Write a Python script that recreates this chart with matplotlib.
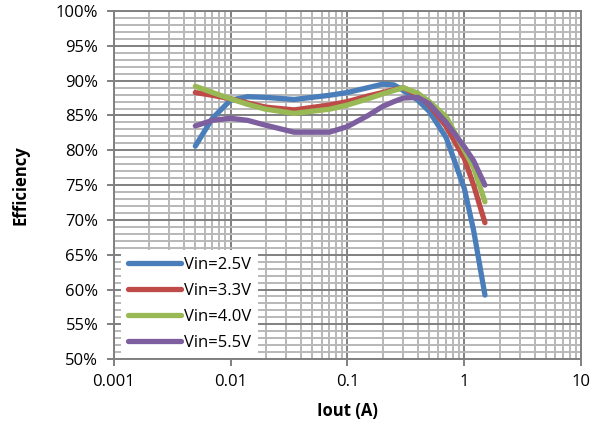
import matplotlib
matplotlib.use("Agg")
import matplotlib.pyplot as plt
from matplotlib.ticker import FixedLocator, LogLocator, NullFormatter, PercentFormatter

# output current (A) and efficiency (%) for each input voltage
iout = [0.005, 0.007, 0.01, 0.014, 0.02, 0.035, 0.07, 0.1, 0.15, 0.2,
        0.25, 0.3, 0.4, 0.5, 0.7, 1.0, 1.2, 1.5]
eff_25 = [80.6, 84.6, 87.2, 87.7, 87.6, 87.3, 87.9, 88.3, 89.0, 89.5,
          89.4, 88.6, 87.2, 85.6, 81.8, 74.5, 68.5, 59.2]
eff_33 = [88.3, 87.9, 87.4, 86.8, 86.2, 85.8, 86.5, 87.0, 87.8, 88.3,
          88.7, 89.0, 87.9, 86.5, 83.4, 78.8, 75.0, 69.6]
eff_40 = [89.2, 88.3, 87.4, 86.6, 85.9, 85.3, 85.9, 86.5, 87.4, 88.1,
          88.6, 89.0, 88.2, 87.0, 84.8, 80.0, 77.5, 72.6]
eff_55 = [83.5, 84.3, 84.6, 84.3, 83.6, 82.6, 82.6, 83.4, 85.0, 86.3,
          87.0, 87.5, 87.6, 86.7, 84.0, 80.5, 78.5, 75.0]

labels = ["Vin=2.5V", "Vin=3.3V", "Vin=4.0V", "Vin=5.5V"]
colors = ["#4a7ebb", "#be4b48", "#98b954", "#7d5fa0"]

plt.rcParams["font.family"] = ["Open Sans", "DejaVu Sans"]

fig = plt.figure(figsize=(5.98, 4.26), dpi=100)
ax = fig.add_axes([0.19, 0.157, 0.782, 0.817])

for y, lab, c in zip([eff_25, eff_33, eff_40, eff_55], labels, colors):
    ax.plot(iout, y, color=c, lw=3.8, solid_capstyle="round",
            solid_joinstyle="round", label=lab, zorder=3)

ax.set_xscale("log")
ax.set_xlim(0.001, 10)
ax.set_ylim(50, 100)

ax.xaxis.set_major_locator(FixedLocator([0.001, 0.01, 0.1, 1, 10]))
ax.set_xticklabels(["0.001", "0.01", "0.1", "1", "10"])
ax.xaxis.set_minor_locator(LogLocator(base=10, subs=range(2, 10)))
ax.xaxis.set_minor_formatter(NullFormatter())
ax.set_yticks(range(50, 101, 5))
ax.set_yticks(range(50, 101, 1), minor=True)
ax.yaxis.set_major_formatter(PercentFormatter(decimals=0))

# dense excel-style grid
ax.grid(which="major", color="#808080", lw=1.4, zorder=1)
ax.grid(which="minor", color="#b8b8b8", lw=1.4, zorder=0)
ax.set_axisbelow(True)

for s in ax.spines.values():
    s.set_color("#808080")
    s.set_linewidth(1.4)
ax.tick_params(which="major", length=5, width=1.4, color="#808080",
               labelsize=12, pad=6)
ax.tick_params(which="minor", length=0)

ax.set_xlabel("Iout (A)", fontsize=12, fontweight="bold", labelpad=8)
ax.set_ylabel("Efficiency", fontsize=12, fontweight="bold", labelpad=19)

leg = ax.legend(loc="lower left", bbox_to_anchor=(0.016, 0.004),
                borderaxespad=0, fontsize=12, handlelength=3.2,
                handletextpad=0.2, labelspacing=0.6, borderpad=0.4,
                fancybox=False, framealpha=1, edgecolor="none")
leg.get_frame().set_facecolor("white")

fig.savefig("out.png", dpi=100)
